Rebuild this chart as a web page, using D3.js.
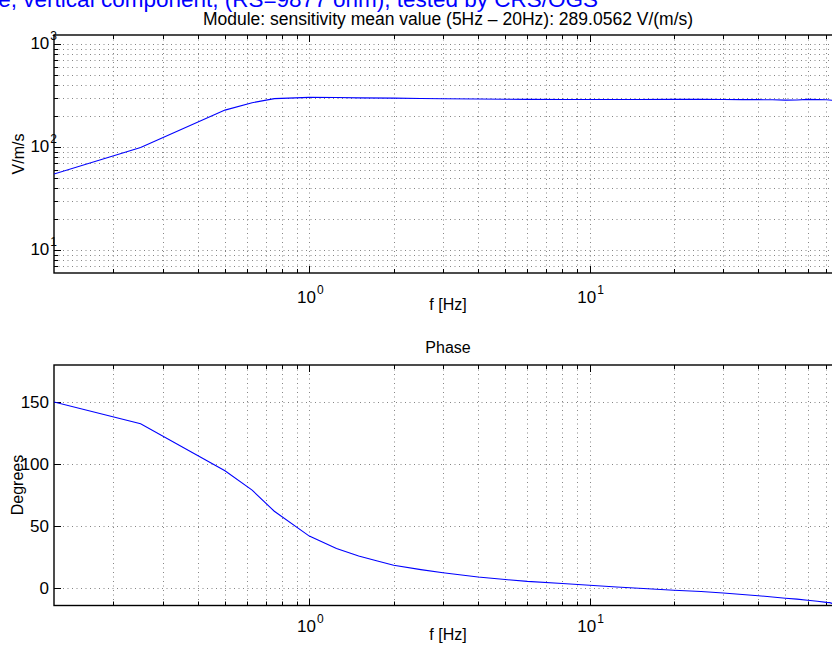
<!DOCTYPE html>
<html>
<head>
<meta charset="utf-8">
<script src="https://cdn.jsdelivr.net/npm/d3@7"></script>
<style>
  html, body { margin: 0; padding: 0; background: #fff; }
  svg { display: block; }
  text { font-family: "Liberation Sans", Arial, Helvetica, sans-serif; fill: #000; }
</style>
</head>
<body>
<svg id="chart" width="832" height="646"></svg>
<script>
// ---------------- data ----------------
const figTitle = "e, vertical component, (RS=9877 ohm), tested by CRS/OGS";
const magTitle = "Module: sensitivity mean value (5Hz \u2013 20Hz):  289.0562 V/(m/s)";
const phaseTitle = "Phase";
const xLabel = "f [Hz]";
const magYLabel = "V/m/s";
const phaseYLabel = "Degrees";

const magFreq = [0.1227, 0.25, 0.5, 0.625, 0.75, 1, 1.25, 1.5, 2, 2.5, 3, 4, 5, 6, 8, 10, 12, 15, 20, 25, 30, 35, 40, 45, 50, 55, 60, 65, 70, 75, 80];
const magValues = [54.7, 99, 228, 269, 295, 303, 302, 300, 298, 296, 294, 292, 291, 290, 289.5, 289, 289, 289.5, 290, 290, 289, 288, 288, 287, 285, 286, 290, 288, 287, 283, 280];

const phaseFreq = [0.1227, 0.25, 0.5, 0.625, 0.75, 1, 1.25, 1.5, 1.75, 2, 2.5, 3, 4, 5, 6, 8, 10, 12.5, 15, 20, 25, 30, 40, 50, 55, 60, 65, 70, 72, 74, 76, 78, 80];
const phaseValues = [150, 132.5, 94.6, 79, 62, 42, 32, 26, 22, 18.5, 15, 12.5, 9, 7, 5.5, 3.8, 2.4, 1, 0, -1.6, -2.6, -3.8, -6, -8, -8.8, -9.7, -10.5, -11.4, -11.6, -12.4, -12.0, -12.9, -13];

const xMajorTicks = [1, 10];
const xMinorTicks = [0.2, 0.3, 0.4, 0.5, 0.6, 0.7, 0.8, 0.9, 2, 3, 4, 5, 6, 7, 8, 9, 20, 30, 40, 50, 60, 70, 80];
const magMajorTicks = [10, 100, 1000];
const magMinorTicks = [7, 8, 9, 20, 30, 40, 50, 60, 70, 80, 90, 200, 300, 400, 500, 600, 700, 800, 900];
const phaseTicks = [0, 50, 100, 150];

const xDomain = [0.1227, 79.6];
const magDomain = [5.98, 1222];
const phaseDomain = [-13.9, 179.8];

// ---------------- layout ----------------
const svg = d3.select("#chart");
const left = 54, right = 842;
const top1 = { y0: 35, y1: 273 };
const bot = { y0: 365, y1: 605.5 };

const x = d3.scaleLog().domain(xDomain).range([left, right]);
const yMag = d3.scaleLog().domain(magDomain).range([top1.y1, top1.y0]);
const yPh = d3.scaleLinear().domain(phaseDomain).range([bot.y1, bot.y0]);

const defs = svg.append("defs");
defs.append("clipPath").attr("id", "clip1").append("rect")
  .attr("x", left).attr("y", top1.y0).attr("width", right - left).attr("height", top1.y1 - top1.y0);
defs.append("clipPath").attr("id", "clip2").append("rect")
  .attr("x", left).attr("y", bot.y0).attr("width", right - left).attr("height", bot.y1 - bot.y0);

const FS = 17;

function supLabel(g, base, exp, xPos, yPos, anchor) {
  const t = g.append("text").attr("x", xPos).attr("y", yPos)
    .attr("text-anchor", anchor).style("font-size", FS + "px");
  t.append("tspan").text(base);
  t.append("tspan").attr("dy", -9).attr("dx", 1).style("font-size", "12px").text(exp);
  return t;
}

function drawPanel(box, yScale, yMajor, yMinor, isLog, xLabBase, fhzBase) {
  const g = svg.append("g");
  const gridStyle = (sel) => sel.attr("stroke", "#666").attr("stroke-width", 0.8)
    .attr("stroke-dasharray", "1,3.5").attr("fill", "none");
  const allX = xMajorTicks.concat(xMinorTicks);
  g.append("g").selectAll("line").data(allX).join("line")
    .attr("x1", d => Math.round(x(d)) + 0.5).attr("x2", d => Math.round(x(d)) + 0.5)
    .attr("y1", box.y0).attr("y2", box.y1).call(gridStyle);
  const allY = yMajor.concat(yMinor).filter(d => yScale(d) >= box.y0 && yScale(d) <= box.y1);
  g.append("g").selectAll("line").data(allY).join("line")
    .attr("x1", left).attr("x2", right)
    .attr("y1", d => Math.round(yScale(d)) + 0.5).attr("y2", d => Math.round(yScale(d)) + 0.5)
    .call(gridStyle);

  const tk = g.append("g").attr("stroke", "#000").attr("stroke-width", 1);
  tk.selectAll("line.xb").data(allX).join("line")
    .attr("x1", d => Math.round(x(d)) + 0.5).attr("x2", d => Math.round(x(d)) + 0.5)
    .attr("y1", box.y1).attr("y2", d => box.y1 - (xMajorTicks.includes(d) ? 7 : 4));
  tk.selectAll("line.xt").data(allX).join("line")
    .attr("x1", d => Math.round(x(d)) + 0.5).attr("x2", d => Math.round(x(d)) + 0.5)
    .attr("y1", box.y0).attr("y2", d => box.y0 + (xMajorTicks.includes(d) ? 7 : 4));
  tk.selectAll("line.yl").data(allY).join("line")
    .attr("y1", d => Math.round(yScale(d)) + 0.5).attr("y2", d => Math.round(yScale(d)) + 0.5)
    .attr("x1", left).attr("x2", d => left + (yMajor.includes(d) ? 7 : 4));

  g.append("rect").attr("x", left).attr("y", box.y0)
    .attr("width", right - left).attr("height", box.y1 - box.y0)
    .attr("fill", "none").attr("stroke", "#000").attr("stroke-width", 1.4);

  xMajorTicks.forEach(d => supLabel(g, "10", Math.round(Math.log10(d)), x(d) + 1, xLabBase, "middle"));
  g.append("text").attr("x", 448).attr("y", fhzBase).attr("text-anchor", "middle")
    .style("font-size", "16px").text(xLabel);

  yMajor.forEach(d => {
    if (isLog) {
      supLabel(g, "10", Math.round(Math.log10(d)), 57, yScale(d) + 5.5, "end");
    } else {
      g.append("text").attr("x", 49).attr("y", yScale(d) + 6).attr("text-anchor", "end")
        .style("font-size", FS + "px").text(d);
    }
  });
  return g;
}

drawPanel(top1, yMag, magMajorTicks, magMinorTicks, true, 303, 310);
drawPanel(bot, yPh, phaseTicks, [], false, 632, 640);

const magData = magFreq.map((f, i) => [f, magValues[i]]);
const phData = phaseFreq.map((f, i) => [f, phaseValues[i]]);

svg.append("path").datum(magData).attr("clip-path", "url(#clip1)")
  .attr("fill", "none").attr("stroke", "#0000ff").attr("stroke-width", 1.1)
  .attr("d", d3.line().x(d => x(d[0])).y(d => yMag(d[1])));
svg.append("path").datum(phData).attr("clip-path", "url(#clip2)")
  .attr("fill", "none").attr("stroke", "#0000ff").attr("stroke-width", 1.1)
  .attr("d", d3.line().x(d => x(d[0])).y(d => yPh(d[1])));

svg.append("text").attr("transform", "translate(24,154) rotate(-90)")
  .attr("text-anchor", "middle").style("font-size", "16px").text(magYLabel);
svg.append("text").attr("transform", "translate(23,485) rotate(-90)")
  .attr("text-anchor", "middle").style("font-size", "16px").text(phaseYLabel);

svg.append("text").attr("x", 448).attr("y", 25).attr("text-anchor", "middle")
  .style("font-size", "17.5px").text(magTitle);
svg.append("text").attr("x", 448).attr("y", 353).attr("text-anchor", "middle")
  .style("font-size", "16px").text(phaseTitle);
svg.append("text").attr("x", 598).attr("y", 7).attr("text-anchor", "end")
  .style("font-size", "22.5px").style("fill", "#0000ff").text(figTitle);
</script>
</body>
</html>
